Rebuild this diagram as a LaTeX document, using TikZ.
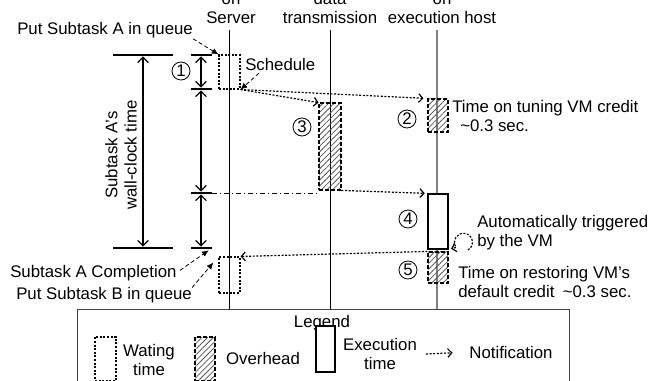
\documentclass[tikz,border=0pt]{standalone}
\usepackage{fontspec}
\setmainfont{Liberation Sans}
\usetikzlibrary{arrows.meta,patterns.meta}

\begin{document}
\begin{tikzpicture}[x=0.75pt,y=-0.75pt,
	font=\fontsize{12.6}{14.5}\selectfont,
	head/.style={anchor=south, align=center, inner sep=0pt},
	txt/.style={inner sep=0pt},
	timeline/.style={line width=0.7pt},
	waitbox/.style={draw, line width=0.8pt, dash pattern=on 1.5pt off 1.2pt, inner sep=0pt},
	ovhbox/.style={draw, line width=0.8pt, dash pattern=on 3pt off 1.5pt, inner sep=0pt,
		pattern={Lines[angle=45,distance=3pt,line width=0.6pt]}, pattern color=black!65},
	exebox/.style={draw, line width=0.9pt, fill=white, inner sep=0pt},
	num/.style={shape=circle, draw=black, line width=0.6pt, minimum size=13.5pt, inner sep=0pt},
	notify/.style={line width=0.9pt, dash pattern=on 1.5pt off 1.2pt, -{Straight Barb[length=3pt,width=6.5pt]}},
	callout/.style={line width=0.6pt, dash pattern=on 3pt off 2pt, -{Latex[length=5pt,width=4.5pt]}},
	tick/.style={line width=1.3pt},
	span/.style={line width=0.9pt, shorten <=1pt, shorten >=1pt,
		{Straight Barb[length=4pt,width=8pt]}-{Straight Barb[length=4pt,width=8pt]}}
	]
	\useasboundingbox (0,0) rectangle (650,381);
	
	% headers of the three time lines
	\node[head] (hserver) at (231, 24) {on\\Server};
	\node[head] (hdata)   at (330, 24) {data\\transmission};
	\node[head] (hexec)   at (442, 24) {on\\execution host};
	\coordinate (srv) at (229, 30);
	\coordinate (dat) at (330, 30);
	\coordinate (exh) at (437, 30);
	
	% legend frame
	\node[draw=black!75, line width=0.9pt, anchor=north west, inner sep=0pt,
		minimum width=369pt, minimum height=70pt] (legend) at (77, 309) {};
	
	\draw[timeline] (srv) -- (srv |- legend.north);
	\draw[timeline] (dat) -- (dat |- legend.north);
	\draw[timeline, draw=black!50, line width=1pt] (exh) -- (exh |- legend.north);
	
	% boxes
	\node[waitbox, minimum width=15.75pt, minimum height=25.5pt]  (waitA) at (229.5, 72)    {};
	\node[ovhbox,  minimum width=16.5pt,  minimum height=65.25pt] (ovh3)  at (330, 146.5)   {};
	\node[ovhbox,  minimum width=15pt,    minimum height=24.75pt] (ovh2)  at (438, 115.5)   {};
	\node[exebox,  minimum width=15pt,    minimum height=41.25pt] (exe4)  at (438, 221.5)   {};
	\node[ovhbox,  minimum width=15pt,    minimum height=23.25pt] (ovh5)  at (438, 267.5)   {};
	\node[waitbox, minimum width=15.75pt, minimum height=27pt]    (waitB) at (229.5, 275)   {};
	
	\node[num] (n1) at (181, 71)  {1};
	\node[num] (n2) at (407, 119) {2};
	\node[num] (n3) at (302, 127) {3};
	\node[num] (n4) at (408, 219) {4};
	\node[num] (n5) at (408, 270) {5};
	
	% wall-clock time of subtask A
	\draw[tick] (113, 55) -- (173, 55);
	\draw[tick] (113, 248) -- (173, 248);
	\coordinate (w0) at (143, 55);
	\coordinate (w1) at (143, 248);
	\draw[span] (w0) -- (w1);
	\node[txt, rotate=90, align=center] (wall) at (121, 155) {Subtask A's\\wall-clock time};
	
	% phases
	\foreach \y/\n in {55/t0, 89/t1, 193/t2, 248/t3} {
		\draw[tick] (191, \y) -- (212, \y);
		\coordinate (\n) at (201, \y);
		\coordinate (e\n) at (212, \y);
	}
	\draw[span] (t0) -- (t1);
	\draw[span] (t1) -- (t2);
	\draw[span] (t2) -- (t3);
	\draw[line width=0.7pt, dash pattern=on 4pt off 2pt on 1pt off 2pt] (et2) -- (et2 -| ovh3.south west);
	
	% notifications
	\draw[notify] (waitA.south east) -- (ovh3.north west);
	\draw[notify, shorten >=3pt] (waitA.south east) -- (ovh2.north west);
	\draw[notify, shorten >=2pt] (ovh3.south east) -- (exe4.north west);
	\draw[notify] (ovh5.north west) -- (waitB.north east);
	\coordinate (loop) at (468, 250);
	\draw[notify, shorten >=2pt] (loop) arc[start angle=60, end angle=-215, radius=9] -- (exe4.south east);
	
	% labels
	\node[txt, anchor=base west] (putA)  at (17, 35)  {Put Subtask A in queue};
	\node[txt, anchor=base west] (sched) at (245, 71) {Schedule};
	\node[txt, anchor=base west] (compl) at (10, 277) {Subtask A Completion};
	\node[txt, anchor=base west] (putB)  at (16, 300) {Put Subtask B in queue};
	\node[txt, anchor=north west, align=left] (tune) at (452, 100)
		{Time on tuning VM credit\\\hspace{6pt}\textasciitilde0.3 sec.};
	\node[txt, anchor=north west, align=left] (auto) at (477, 215)
		{Automatically triggered\\by the VM};
	\node[txt, anchor=north west, align=left] (restore) at (458, 266)
		{Time on restoring VM's\\default credit\hspace{0.5em}\textasciitilde0.3 sec.};
	
	\draw[callout] (putA.south east) -- (waitA.north west);
	\draw[callout, shorten <=2pt] ([xshift=12pt]sched.south west) -- (waitA.south east);
	\draw[callout, shorten <=3pt, shorten >=3pt] (compl.east) -- (et3);
	\draw[callout, shorten >=6pt] (putB.north east) -- (waitB.north west);
	
	% legend entries
	\node[txt] (legtitle) at (322, 323) {Legend};
	\node[waitbox, minimum width=15.75pt, minimum height=33pt]  (lwait) at (105.5, 359) {};
	\node[txt, align=center] (lwaittxt) at (149, 360) {Wating\\time};
	\node[ovhbox, minimum width=15pt, minimum height=33pt]      (lovh)  at (205, 359)   {};
	\node[txt] (lovhtxt) at (263, 358) {Overhead};
	\node[exebox, minimum width=14.25pt, minimum height=34.5pt] (lexe)  at (325.5, 349) {};
	\node[txt, align=center] (lexetxt) at (380, 354) {Execution\\time};
	\node[txt] (lnotetxt) at (511, 352) {Notification};
	\coordinate (lnote) at (426, 354);
	\draw[notify, shorten >=12.5pt] (lnote) -- (lnotetxt.west);
	
\end{tikzpicture}
\end{document}
